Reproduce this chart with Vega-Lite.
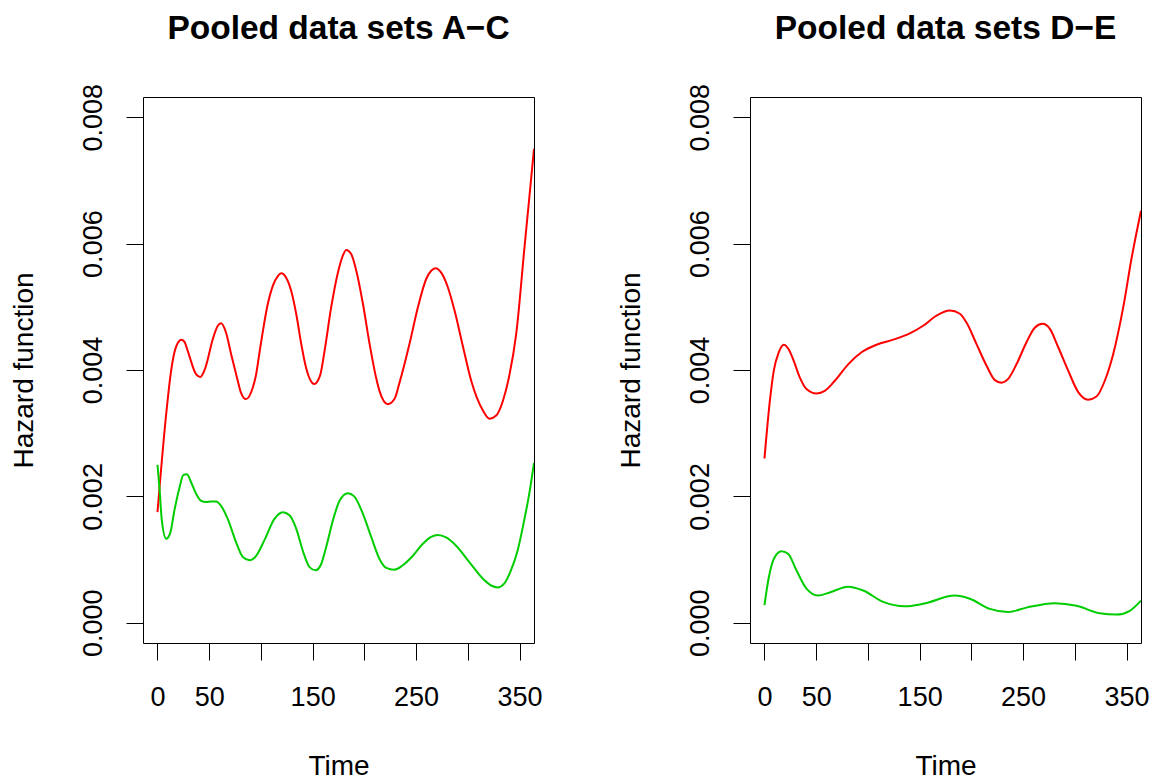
{
  "$schema": "https://vega.github.io/schema/vega-lite/v6.json",
  "padding": {"left": 10, "top": 11, "right": 10, "bottom": 5},
  "background": "white",
  "config": {
    "font": "Liberation Sans",
    "view": {"stroke": "black", "strokeWidth": 1},
    "axis": {"grid": false, "domain": false, "tickColor": "black", "tickSize": 17, "tickWidth": 1,
      "labelFont": "Liberation Sans", "labelFontSize": 27, "labelColor": "black",
      "titleFont": "Liberation Sans", "titleFontSize": 28, "titleFontWeight": "normal", "titleColor": "black"},
    "title": {"fontSize": 33.5, "fontWeight": "bold", "font": "Liberation Sans", "color": "black", "anchor": "middle"},
    "concat": {"spacing": 74}
  },
  "datasets": {
    "hz": [
      {"panel":"AC","series":"red","time":0,"hazard":0.00175},
      {"panel":"AC","series":"red","time":8.4,"hazard":0.0033},
      {"panel":"AC","series":"red","time":13.2,"hazard":0.00399},
      {"panel":"AC","series":"red","time":16.4,"hazard":0.00428},
      {"panel":"AC","series":"red","time":20.5,"hazard":0.00445},
      {"panel":"AC","series":"red","time":23.2,"hazard":0.00448},
      {"panel":"AC","series":"red","time":26,"hazard":0.00445},
      {"panel":"AC","series":"red","time":29.3,"hazard":0.0043},
      {"panel":"AC","series":"red","time":37.4,"hazard":0.00393},
      {"panel":"AC","series":"red","time":41.3,"hazard":0.00389},
      {"panel":"AC","series":"red","time":46.4,"hazard":0.00404},
      {"panel":"AC","series":"red","time":53.5,"hazard":0.00449},
      {"panel":"AC","series":"red","time":58.3,"hazard":0.0047},
      {"panel":"AC","series":"red","time":61.5,"hazard":0.00474},
      {"panel":"AC","series":"red","time":66.3,"hazard":0.00459},
      {"panel":"AC","series":"red","time":71.2,"hazard":0.00425},
      {"panel":"AC","series":"red","time":77.6,"hazard":0.00383},
      {"panel":"AC","series":"red","time":80.5,"hazard":0.00365},
      {"panel":"AC","series":"red","time":85.5,"hazard":0.00354},
      {"panel":"AC","series":"red","time":92.1,"hazard":0.00372},
      {"panel":"AC","series":"red","time":95,"hazard":0.0039},
      {"panel":"AC","series":"red","time":99.4,"hazard":0.00436},
      {"panel":"AC","series":"red","time":106.6,"hazard":0.00504},
      {"panel":"AC","series":"red","time":111.5,"hazard":0.00533},
      {"panel":"AC","series":"red","time":116.5,"hazard":0.00549},
      {"panel":"AC","series":"red","time":119.6,"hazard":0.00553},
      {"panel":"AC","series":"red","time":124.4,"hazard":0.00546},
      {"panel":"AC","series":"red","time":129.3,"hazard":0.00525},
      {"panel":"AC","series":"red","time":134.1,"hazard":0.00489},
      {"panel":"AC","series":"red","time":139,"hazard":0.00441},
      {"panel":"AC","series":"red","time":143.9,"hazard":0.00402},
      {"panel":"AC","series":"red","time":151.5,"hazard":0.00378},
      {"panel":"AC","series":"red","time":157.3,"hazard":0.00392},
      {"panel":"AC","series":"red","time":161.5,"hazard":0.0043},
      {"panel":"AC","series":"red","time":167.9,"hazard":0.00499},
      {"panel":"AC","series":"red","time":174.4,"hazard":0.00554},
      {"panel":"AC","series":"red","time":179.2,"hazard":0.00581},
      {"panel":"AC","series":"red","time":182.5,"hazard":0.0059},
      {"panel":"AC","series":"red","time":187.4,"hazard":0.00583},
      {"panel":"AC","series":"red","time":192.2,"hazard":0.00557},
      {"panel":"AC","series":"red","time":198.7,"hazard":0.00504},
      {"panel":"AC","series":"red","time":205.1,"hazard":0.00441},
      {"panel":"AC","series":"red","time":211.6,"hazard":0.00386},
      {"panel":"AC","series":"red","time":214.6,"hazard":0.00367},
      {"panel":"AC","series":"red","time":222.6,"hazard":0.00346},
      {"panel":"AC","series":"red","time":229.1,"hazard":0.00354},
      {"panel":"AC","series":"red","time":234,"hazard":0.0038},
      {"panel":"AC","series":"red","time":243.6,"hazard":0.00441},
      {"panel":"AC","series":"red","time":251.7,"hazard":0.00499},
      {"panel":"AC","series":"red","time":259.8,"hazard":0.00544},
      {"panel":"AC","series":"red","time":264.6,"hazard":0.00557},
      {"panel":"AC","series":"red","time":268.8,"hazard":0.00561},
      {"panel":"AC","series":"red","time":274.3,"hazard":0.00554},
      {"panel":"AC","series":"red","time":280.7,"hazard":0.00531},
      {"panel":"AC","series":"red","time":287.2,"hazard":0.00494},
      {"panel":"AC","series":"red","time":295.2,"hazard":0.00438},
      {"panel":"AC","series":"red","time":303.3,"hazard":0.00383},
      {"panel":"AC","series":"red","time":314.6,"hazard":0.00336},
      {"panel":"AC","series":"red","time":321,"hazard":0.00323},
      {"panel":"AC","series":"red","time":327.5,"hazard":0.00328},
      {"panel":"AC","series":"red","time":333.9,"hazard":0.00351},
      {"panel":"AC","series":"red","time":340,"hazard":0.0039},
      {"panel":"AC","series":"red","time":346.8,"hazard":0.00457},
      {"panel":"AC","series":"red","time":354.8,"hazard":0.00594},
      {"panel":"AC","series":"red","time":359,"hazard":0.00665},
      {"panel":"AC","series":"red","time":364,"hazard":0.0075},
      {"panel":"AC","series":"green","time":0,"hazard":0.0025},
      {"panel":"AC","series":"green","time":1.9,"hazard":0.00214},
      {"panel":"AC","series":"green","time":4.2,"hazard":0.00162},
      {"panel":"AC","series":"green","time":8.4,"hazard":0.00133},
      {"panel":"AC","series":"green","time":12.3,"hazard":0.00142},
      {"panel":"AC","series":"green","time":16.4,"hazard":0.00178},
      {"panel":"AC","series":"green","time":21.3,"hazard":0.00214},
      {"panel":"AC","series":"green","time":25.1,"hazard":0.00234},
      {"panel":"AC","series":"green","time":28.4,"hazard":0.00235},
      {"panel":"AC","series":"green","time":32.6,"hazard":0.00222},
      {"panel":"AC","series":"green","time":37.4,"hazard":0.00204},
      {"panel":"AC","series":"green","time":42.2,"hazard":0.00193},
      {"panel":"AC","series":"green","time":47.1,"hazard":0.00191},
      {"panel":"AC","series":"green","time":52,"hazard":0.00192},
      {"panel":"AC","series":"green","time":56.8,"hazard":0.00192},
      {"panel":"AC","series":"green","time":61.5,"hazard":0.00185},
      {"panel":"AC","series":"green","time":68,"hazard":0.00164},
      {"panel":"AC","series":"green","time":76.1,"hazard":0.00127},
      {"panel":"AC","series":"green","time":82.5,"hazard":0.00104},
      {"panel":"AC","series":"green","time":89,"hazard":0.00099},
      {"panel":"AC","series":"green","time":95.4,"hazard":0.00106},
      {"panel":"AC","series":"green","time":103.2,"hazard":0.0013},
      {"panel":"AC","series":"green","time":112.9,"hazard":0.00164},
      {"panel":"AC","series":"green","time":121.1,"hazard":0.00175},
      {"panel":"AC","series":"green","time":127.6,"hazard":0.0017},
      {"panel":"AC","series":"green","time":134.1,"hazard":0.00149},
      {"panel":"AC","series":"green","time":140.5,"hazard":0.00114},
      {"panel":"AC","series":"green","time":147,"hazard":0.00088},
      {"panel":"AC","series":"green","time":152.8,"hazard":0.00083},
      {"panel":"AC","series":"green","time":158.3,"hazard":0.00093},
      {"panel":"AC","series":"green","time":163.1,"hazard":0.0012},
      {"panel":"AC","series":"green","time":169.6,"hazard":0.00162},
      {"panel":"AC","series":"green","time":176,"hazard":0.00193},
      {"panel":"AC","series":"green","time":184,"hazard":0.00205},
      {"panel":"AC","series":"green","time":190.2,"hazard":0.002},
      {"panel":"AC","series":"green","time":198.7,"hazard":0.00172},
      {"panel":"AC","series":"green","time":206.8,"hazard":0.00135},
      {"panel":"AC","series":"green","time":214.6,"hazard":0.00101},
      {"panel":"AC","series":"green","time":221.1,"hazard":0.00087},
      {"panel":"AC","series":"green","time":229.1,"hazard":0.00084},
      {"panel":"AC","series":"green","time":237.2,"hazard":0.00091},
      {"panel":"AC","series":"green","time":246.9,"hazard":0.00106},
      {"panel":"AC","series":"green","time":256.5,"hazard":0.00125},
      {"panel":"AC","series":"green","time":264.6,"hazard":0.00136},
      {"panel":"AC","series":"green","time":271,"hazard":0.00139},
      {"panel":"AC","series":"green","time":279,"hazard":0.00135},
      {"panel":"AC","series":"green","time":288.7,"hazard":0.00122},
      {"panel":"AC","series":"green","time":301.5,"hazard":0.00096},
      {"panel":"AC","series":"green","time":314.4,"hazard":0.0007},
      {"panel":"AC","series":"green","time":322.5,"hazard":0.00059},
      {"panel":"AC","series":"green","time":328.9,"hazard":0.00056},
      {"panel":"AC","series":"green","time":335.2,"hazard":0.00062},
      {"panel":"AC","series":"green","time":341.7,"hazard":0.00083},
      {"panel":"AC","series":"green","time":348.1,"hazard":0.00114},
      {"panel":"AC","series":"green","time":354.5,"hazard":0.00162},
      {"panel":"AC","series":"green","time":359.4,"hazard":0.00204},
      {"panel":"AC","series":"green","time":364,"hazard":0.00253},
      {"panel":"DE","series":"red","time":0,"hazard":0.0026},
      {"panel":"DE","series":"red","time":5.2,"hazard":0.00351},
      {"panel":"DE","series":"red","time":9,"hazard":0.00399},
      {"panel":"DE","series":"red","time":13.8,"hazard":0.00428},
      {"panel":"DE","series":"red","time":18.7,"hazard":0.0044},
      {"panel":"DE","series":"red","time":22.9,"hazard":0.00434},
      {"panel":"DE","series":"red","time":27.7,"hazard":0.00417},
      {"panel":"DE","series":"red","time":34.2,"hazard":0.00388},
      {"panel":"DE","series":"red","time":40.6,"hazard":0.0037},
      {"panel":"DE","series":"red","time":50.3,"hazard":0.00363},
      {"panel":"DE","series":"red","time":58.3,"hazard":0.00367},
      {"panel":"DE","series":"red","time":68,"hazard":0.00383},
      {"panel":"DE","series":"red","time":80.9,"hazard":0.00409},
      {"panel":"DE","series":"red","time":93.8,"hazard":0.00428},
      {"panel":"DE","series":"red","time":108.3,"hazard":0.0044},
      {"panel":"DE","series":"red","time":124.4,"hazard":0.00448},
      {"panel":"DE","series":"red","time":140.5,"hazard":0.00458},
      {"panel":"DE","series":"red","time":153.4,"hazard":0.0047},
      {"panel":"DE","series":"red","time":166.3,"hazard":0.00486},
      {"panel":"DE","series":"red","time":179.2,"hazard":0.00494},
      {"panel":"DE","series":"red","time":188.9,"hazard":0.00489},
      {"panel":"DE","series":"red","time":195.3,"hazard":0.00475},
      {"panel":"DE","series":"red","time":205,"hazard":0.00441},
      {"panel":"DE","series":"red","time":214.6,"hazard":0.00407},
      {"panel":"DE","series":"red","time":222.7,"hazard":0.00384},
      {"panel":"DE","series":"red","time":229.1,"hazard":0.0038},
      {"panel":"DE","series":"red","time":235.6,"hazard":0.00386},
      {"panel":"DE","series":"red","time":243.6,"hazard":0.00409},
      {"panel":"DE","series":"red","time":253.3,"hazard":0.00444},
      {"panel":"DE","series":"red","time":261.3,"hazard":0.00467},
      {"panel":"DE","series":"red","time":268.8,"hazard":0.00473},
      {"panel":"DE","series":"red","time":275.9,"hazard":0.00465},
      {"panel":"DE","series":"red","time":284,"hazard":0.00436},
      {"panel":"DE","series":"red","time":293.6,"hazard":0.00399},
      {"panel":"DE","series":"red","time":303.3,"hazard":0.00365},
      {"panel":"DE","series":"red","time":313,"hazard":0.00353},
      {"panel":"DE","series":"red","time":321,"hazard":0.00358},
      {"panel":"DE","series":"red","time":329,"hazard":0.00383},
      {"panel":"DE","series":"red","time":337.1,"hazard":0.00425},
      {"panel":"DE","series":"red","time":346.8,"hazard":0.00499},
      {"panel":"DE","series":"red","time":354.8,"hazard":0.00576},
      {"panel":"DE","series":"red","time":364,"hazard":0.00652},
      {"panel":"DE","series":"green","time":0,"hazard":0.00028},
      {"panel":"DE","series":"green","time":4.2,"hazard":0.00072},
      {"panel":"DE","series":"green","time":9,"hazard":0.00101},
      {"panel":"DE","series":"green","time":16.4,"hazard":0.00113},
      {"panel":"DE","series":"green","time":22.9,"hazard":0.00109},
      {"panel":"DE","series":"green","time":30.9,"hazard":0.00083},
      {"panel":"DE","series":"green","time":40.6,"hazard":0.00054},
      {"panel":"DE","series":"green","time":51.9,"hazard":0.00043},
      {"panel":"DE","series":"green","time":63.1,"hazard":0.00048},
      {"panel":"DE","series":"green","time":80.9,"hazard":0.00057},
      {"panel":"DE","series":"green","time":95.4,"hazard":0.00051},
      {"panel":"DE","series":"green","time":114.8,"hazard":0.00033},
      {"panel":"DE","series":"green","time":135.6,"hazard":0.00026},
      {"panel":"DE","series":"green","time":153.4,"hazard":0.0003},
      {"panel":"DE","series":"green","time":184,"hazard":0.00043},
      {"panel":"DE","series":"green","time":198.5,"hazard":0.00038},
      {"panel":"DE","series":"green","time":217.8,"hazard":0.00022},
      {"panel":"DE","series":"green","time":235.6,"hazard":0.00017},
      {"panel":"DE","series":"green","time":253.3,"hazard":0.00024},
      {"panel":"DE","series":"green","time":280.7,"hazard":0.00031},
      {"panel":"DE","series":"green","time":301.7,"hazard":0.00027},
      {"panel":"DE","series":"green","time":324.2,"hazard":0.00015},
      {"panel":"DE","series":"green","time":340.3,"hazard":0.00013},
      {"panel":"DE","series":"green","time":353.2,"hazard":0.00019},
      {"panel":"DE","series":"green","time":364,"hazard":0.00035}
    ]
  },
  "data": {"name": "hz"},
  "hconcat": [
    {
      "title": {"text": "Pooled data sets A−C", "offset": 11, "baseline": "alphabetic"},
      "width": 391, "height": 546,
      "transform": [{"filter": "datum.panel == 'AC'"}],
      "mark": {"type": "line", "interpolate": "monotone", "strokeWidth": 2, "clip": true},
      "encoding": {
        "x": {"field": "time", "type": "quantitative",
          "scale": {"domain": [-14, 364], "nice": false, "zero": false},
          "axis": {"title": "Time", "values": [0,50,100,150,200,250,300,350],
            "labelExpr": "indexof([100,200,300], datum.value) >= 0 ? '' : datum.label",
            "labelPadding": 45.7, "labelBaseline": "alphabetic", "labelFlush": false, "labelOverlap": false,
            "titleX": 195.5, "titleY": 131.7, "titleBaseline": "alphabetic", "titleAlign": "center"}},
        "y": {"field": "hazard", "type": "quantitative",
          "scale": {"domain": [-0.00032, 0.00832], "nice": false, "zero": false},
          "axis": {"title": "Hazard function", "values": [0,0.002,0.004,0.006,0.008], "format": ".3f",
            "labelAngle": -90, "labelAlign": "center", "labelBaseline": "alphabetic", "labelPadding": 24.2, "labelOverlap": false,
            "titleX": -110.4, "titleY": 273, "titleAngle": -90, "titleBaseline": "alphabetic", "titleAlign": "center"}},
        "color": {"field": "series", "type": "nominal",
          "scale": {"domain": ["red", "green"], "range": ["#FF0000", "#00CD00"]}, "legend": null}
      }
    },
    {
      "title": {"text": "Pooled data sets D−E", "offset": 11, "baseline": "alphabetic"},
      "width": 391, "height": 546,
      "transform": [{"filter": "datum.panel == 'DE'"}],
      "mark": {"type": "line", "interpolate": "monotone", "strokeWidth": 2, "clip": true},
      "encoding": {
        "x": {"field": "time", "type": "quantitative",
          "scale": {"domain": [-14, 364], "nice": false, "zero": false},
          "axis": {"title": "Time", "values": [0,50,100,150,200,250,300,350],
            "labelExpr": "indexof([100,200,300], datum.value) >= 0 ? '' : datum.label",
            "labelPadding": 45.7, "labelBaseline": "alphabetic", "labelFlush": false, "labelOverlap": false,
            "titleX": 195.5, "titleY": 131.7, "titleBaseline": "alphabetic", "titleAlign": "center"}},
        "y": {"field": "hazard", "type": "quantitative",
          "scale": {"domain": [-0.00032, 0.00832], "nice": false, "zero": false},
          "axis": {"title": "Hazard function", "values": [0,0.002,0.004,0.006,0.008], "format": ".3f",
            "labelAngle": -90, "labelAlign": "center", "labelBaseline": "alphabetic", "labelPadding": 24.2, "labelOverlap": false,
            "titleX": -110.4, "titleY": 273, "titleAngle": -90, "titleBaseline": "alphabetic", "titleAlign": "center"}},
        "color": {"field": "series", "type": "nominal",
          "scale": {"domain": ["red", "green"], "range": ["#FF0000", "#00CD00"]}, "legend": null}
      }
    }
  ]
}
